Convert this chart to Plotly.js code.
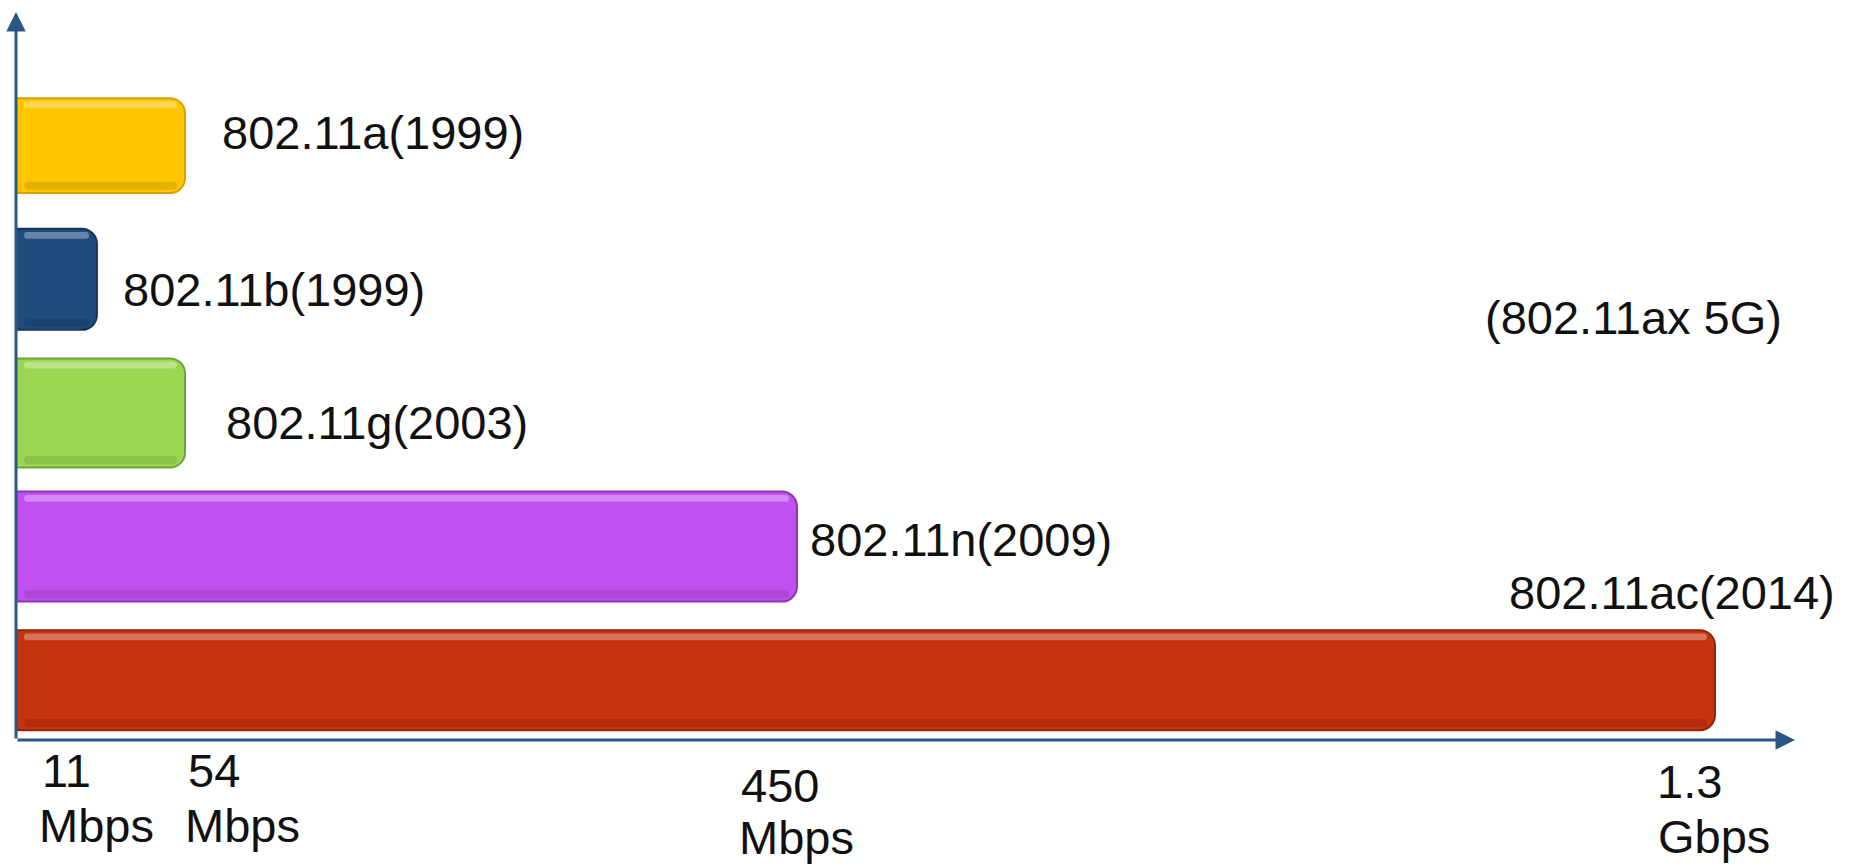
<!DOCTYPE html>
<html>
<head>
<meta charset="utf-8">
<script src="https://cdn.plot.ly/plotly-3.0.1.min.js"></script>
<style>
  html, body { margin: 0; padding: 0; background: #ffffff; }
  #chart { width: 1863px; height: 867px; }
</style>
</head>
<body>
<div id="chart"></div>
<script>
// ---- data ----
// Wi-Fi standards (top to bottom)
const standards = ['802.11a(1999)', '802.11b(1999)', '802.11g(2003)', '802.11n(2009)', '802.11ac(2014)'];
// schematic bar length, as drawn (percent of the horizontal axis length)
const barLength = [9.5, 4.55, 9.5, 43.9, 95.5];
// speed labels under the axis and the bar whose end they mark
const speedValue = ['11', '54', '450', '1.3'];
const speedUnit = ['Mbps', 'Mbps', 'Mbps', 'Gbps'];
const speedBar = [1, 0, 3, 4];
// extra label with no bar
const extraLabel = '(802.11ax 5G)';

// ---- styling ----
const barColors = ['#FFC600', '#1E4C7C', '#9BD752', '#C050F0', '#C8330F'];
const barEdge = ['#D9A000', '#143858', '#6FA33A', '#8E35B5', '#8E240A'];
const barWidth = [0.71, 0.756, 0.816, 0.823, 0.748];
const labelXShift = [35, 24, 39, 11, -208];
const labelYShift = [13.6, -9.8, -9.1, 7.5, 88.2];
const valueXShift = [-57, 1, -58, -60];
const valueYShift = [-2, -2, -17, -13];
const unitXShift = [-59.5, -2.5, -59.5, -59];
const unitYShift = [-57, -57, -69, -68];
const axisColor = '#2A5783';
const FONT = 'Liberation Sans, Arial, sans-serif';
const FS = 47;

const yBottom = 4.447, yTop = -1.0;

const traces = [
  {
    type: 'bar',
    orientation: 'h',
    y: standards,
    x: barLength,
    width: barWidth,
    marker: {
      color: barColors,
      line: { color: barEdge, width: 2 },
      cornerradius: 15
    },
    hoverinfo: 'skip',
    showlegend: false
  },
  {
    // top highlight strip on each bar
    type: 'bar',
    orientation: 'h',
    y: standards,
    x: barLength.map(v => v - 0.9),
    base: barLength.map(() => 0.45),
    width: barWidth.map(() => 0.05),
    offset: barWidth.map(w => -w / 2 + 0.025),
    marker: { color: 'rgba(255,255,255,0.32)', line: { width: 0 }, cornerradius: 4 },
    hoverinfo: 'skip',
    showlegend: false
  },
  {
    // lower shade strip on each bar
    type: 'bar',
    orientation: 'h',
    y: standards,
    x: barLength.map(v => v - 0.9),
    base: barLength.map(() => 0.45),
    width: barWidth.map(() => 0.06),
    offset: barWidth.map(w => w / 2 - 0.085),
    marker: { color: 'rgba(0,0,0,0.10)', line: { width: 0 }, cornerradius: 4 },
    hoverinfo: 'skip',
    showlegend: false
  }
];

const annotations = [];
standards.forEach((s, i) => {
  annotations.push({
    x: barLength[i], y: s, xref: 'x', yref: 'y',
    text: s, showarrow: false,
    xanchor: 'left', yanchor: 'middle',
    xshift: labelXShift[i], yshift: labelYShift[i],
    font: { family: FONT, size: FS, color: '#111111' }
  });
});
annotations.push({
  x: 0.8246, y: 0.5797, xref: 'paper', yref: 'paper',
  text: extraLabel, showarrow: false,
  xanchor: 'left', yanchor: 'middle',
  font: { family: FONT, size: FS, color: '#111111' }
});
speedValue.forEach((v, i) => {
  const xv = barLength[speedBar[i]];
  annotations.push({
    x: xv, y: 0, xref: 'x', yref: 'paper',
    text: v, showarrow: false, xanchor: 'left', yanchor: 'top',
    xshift: valueXShift[i], yshift: valueYShift[i],
    font: { family: FONT, size: FS, color: '#111111' }
  });
  annotations.push({
    x: xv, y: 0, xref: 'x', yref: 'paper',
    text: speedUnit[i], showarrow: false, xanchor: 'left', yanchor: 'top',
    xshift: unitXShift[i], yshift: unitYShift[i],
    font: { family: FONT, size: FS, color: '#111111' }
  });
});
// axis arrows
annotations.push({
  x: 100, y: yBottom, xref: 'x', yref: 'y',
  ax: 0, ay: yBottom, axref: 'x', ayref: 'y',
  text: '', showarrow: true, arrowhead: 2, arrowsize: 1.3, arrowwidth: 3,
  arrowcolor: axisColor, standoff: 0, startstandoff: 0
});
annotations.push({
  x: 0, y: yTop, xref: 'x', yref: 'y',
  ax: 0, ay: yBottom, axref: 'x', ayref: 'y',
  text: '', showarrow: true, arrowhead: 2, arrowsize: 1.3, arrowwidth: 3,
  arrowcolor: axisColor, standoff: 0, startstandoff: 0
});

const layout = {
  width: 1863,
  height: 867,
  margin: { l: 16, r: 68, t: 12, b: 127, pad: 0 },
  paper_bgcolor: '#ffffff',
  plot_bgcolor: '#ffffff',
  barmode: 'overlay',
  showlegend: false,
  xaxis: {
    range: [0, 100], showgrid: false, zeroline: false,
    showticklabels: false, showline: false, ticks: ''
  },
  yaxis: {
    type: 'category', categoryorder: 'array', categoryarray: standards,
    range: [yBottom, yTop], showgrid: false, zeroline: false,
    showticklabels: false, showline: false, ticks: ''
  },
  annotations: annotations,
  font: { family: FONT }
};

Plotly.newPlot('chart', traces, layout, { displayModeBar: false, staticPlot: true });
</script>
</body>
</html>
